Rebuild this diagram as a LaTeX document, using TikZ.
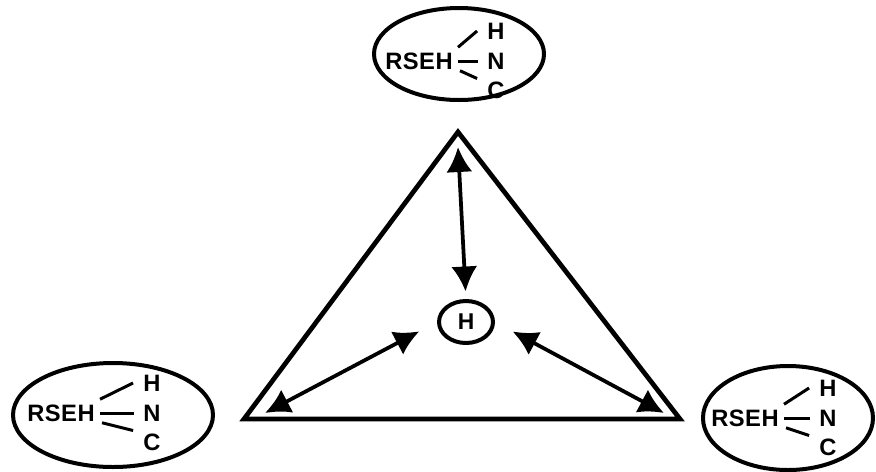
\documentclass[tikz,border=0pt]{standalone}
\usepackage{fontspec}
\newfontfamily\molfont[LetterSpace=2]{Liberation Sans}
\usetikzlibrary{arrows.meta}
\usetikzlibrary{positioning}
\usetikzlibrary{shapes.geometric}

\begin{document}
\begin{tikzpicture}[x=0.02cm, y=-0.02cm]

	\tikzset{myarrow/.style={{Latex[length=5mm,width=5.2mm]}-{Latex[length=5mm,width=5.2mm]}, black, line width=0.75mm, shorten >=0.4cm}}
	\tikzset{mybond/.style={black, line width=0.6mm}}
	\tikzset{myatom/.style={font=\molfont\bfseries\fontsize{13.5}{13.5}\selectfont, inner sep=0pt}}

	\useasboundingbox (0,0) rectangle (876,471);

	%triangle
	\draw[line width=0.95mm, line join=miter] (458,132) -- (244,419) -- (680,419) -- cycle;

	%hydrogen in the middle
	\node[ellipse, draw, line width=0.8mm, minimum width=1.08cm, minimum height=0.84cm, inner sep=0pt,
		font=\molfont\bfseries\fontsize{13}{13}\selectfont] (H) at (466,322) {H};

	\coordinate (ctop) at (458,147);
	\coordinate (cleft) at (265,413);
	\coordinate (cright) at (664,413);

	\draw[myarrow, shorten >=0.15cm] (ctop) -- (H.north);
	\draw[myarrow] (cleft) -- (H.west);
	\draw[myarrow] (cright) -- (H.east);

	%the three molecules
	\foreach \n/\cx/\cy/\rx/\ry/\rdx/\ndx/\dy in {top/459/54/85/46/-40/37/7, left/113/415/100/52/-52/39/-2, right/788/418/85/52/-43/40/0} {
		\draw[line width=0.8mm] (\cx,\cy) ellipse [x radius=\rx, y radius=\ry];
		\node[myatom] (\n-r) at (\cx+\rdx,\cy+\dy) {RSEH};
		\node[myatom] (\n-n) at (\cx+\ndx,\cy+\dy) {N};
		\node[myatom, above=0.26cm of \n-n] (\n-h) {H};
		\node[myatom, below=0.24cm of \n-n] (\n-c) {C};
		\draw[mybond] ([xshift=1mm,yshift=1mm]\n-r.north east) -- ([xshift=-2mm]\n-h.west);
		\draw[mybond] ([xshift=1mm]\n-r.east) -- ([xshift=-1.8mm]\n-n.west);
		\draw[mybond] ([xshift=1.4mm,yshift=-0.2mm]\n-r.south east) -- ([xshift=-2mm,yshift=0.6mm]\n-c.north west);
	}

\end{tikzpicture}
\end{document}
